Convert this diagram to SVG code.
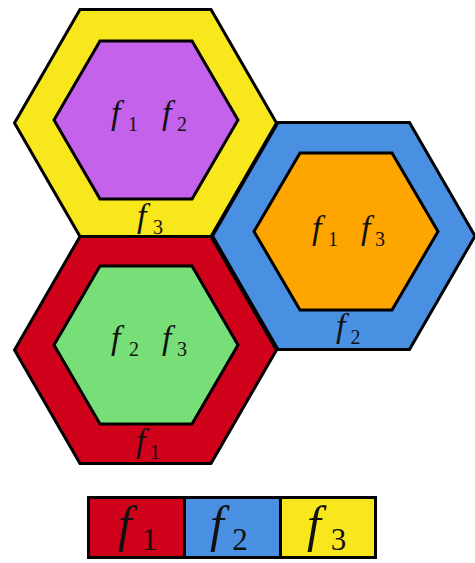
<svg xmlns="http://www.w3.org/2000/svg" width="475" height="563" viewBox="0 0 475 563">
<style>
.hx{stroke:#000;stroke-width:3;stroke-linejoin:miter}
.t{font-family:"Liberation Serif","Times New Roman",serif;font-style:italic;fill:#111}
.s{font-family:"Liberation Serif","Times New Roman",serif;fill:#111}
.f{font-size:34px}
.sb{font-size:20px;text-anchor:middle}
.lf{font-size:50px}
.ls{font-size:31px;text-anchor:middle}
.lg{stroke:#000;stroke-width:3}
</style>
<rect width="475" height="563" fill="#fff"/>
<g id="hex-yellow">
<polygon class="hx" fill="#F8E71C" points="14.5,123 80,9.5 211,9.5 276.5,123 211,236.5 80,236.5"/>
<polygon class="hx" fill="#C462EC" points="54,120 100,41 192,41 238,120 192,199 100,199"/>
<text class="t f" x="111" y="124">f</text><text class="s sb" x="133" y="131">1</text>
<text class="t f" x="162" y="124">f</text><text class="s sb" x="182" y="131">2</text>
<text class="t f" x="137" y="227">f</text><text class="s sb" x="158" y="234">3</text>
</g>
<g id="hex-red">
<polygon class="hx" fill="#D0021B" points="14.5,350 80,236.5 211,236.5 276.5,350 211,463.5 80,463.5"/>
<polygon class="hx" fill="#78DE78" points="54,345 100,266 192,266 238,345 192,424 100,424"/>
<text class="t f" x="111" y="349">f</text><text class="s sb" x="134" y="356">2</text>
<text class="t f" x="162" y="349">f</text><text class="s sb" x="182" y="356">3</text>
<text class="t f" x="136" y="452">f</text><text class="s sb" x="155" y="459">1</text>
</g>
<g id="hex-blue">
<polygon class="hx" fill="#4A90E2" points="212.5,236 278,122.5 409.5,122.5 475,236 409.5,349.5 278,349.5"/>
<polygon class="hx" fill="#FFA500" points="254,231.5 300,153 392,153 438,231.5 392,310 300,310"/>
<text class="t f" x="312" y="239">f</text><text class="s sb" x="333" y="246">1</text>
<text class="t f" x="361" y="239">f</text><text class="s sb" x="380" y="246">3</text>
<text class="t f" x="336" y="337">f</text><text class="s sb" x="355.5" y="344">2</text>
</g>
<g id="legend">
<rect class="lg" fill="#D0021B" x="88.5" y="497.5" width="96" height="60"/>
<rect class="lg" fill="#4A90E2" x="184.5" y="497.5" width="96" height="60"/>
<rect class="lg" fill="#F8E71C" x="280.5" y="497.5" width="95" height="60"/>
<text class="t lf" x="118" y="541">f</text><text class="s ls" x="149.5" y="550">1</text>
<text class="t lf" x="210" y="541">f</text><text class="s ls" x="240" y="550">2</text>
<text class="t lf" x="307" y="541">f</text><text class="s ls" x="338.5" y="550">3</text>
</g>
</svg>
